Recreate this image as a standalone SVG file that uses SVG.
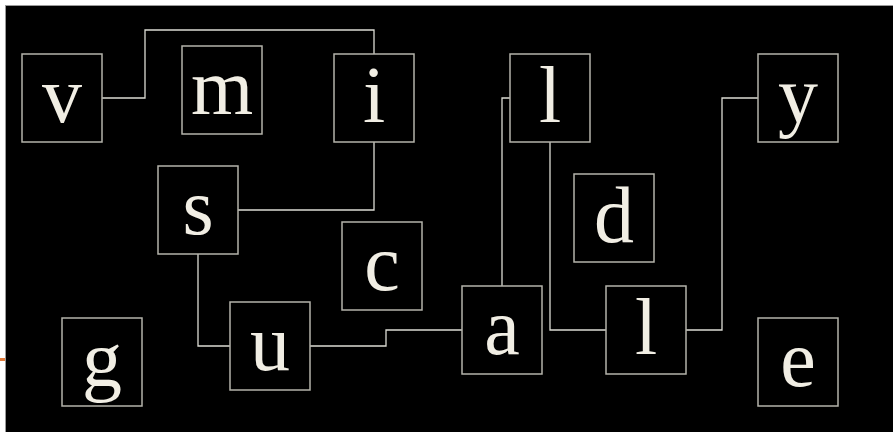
<svg xmlns="http://www.w3.org/2000/svg" width="893" height="432" viewBox="0 0 893 432">
<style>
.bg{fill:#000000}
.box{fill:#000000;stroke:#b4b3aa;stroke-width:1.5}
.lbl{font-family:"Liberation Serif","Times New Roman",serif;font-size:80px;fill:#f1eee4;text-anchor:middle}
.con{fill:none;stroke:#dcdcd4;stroke-width:1.3}
</style>
<rect x="0" y="0" width="893" height="432" fill="#ffffff"/>
<rect class="bg" x="5" y="5" width="888" height="427"/>
<line x1="5" y1="5.5" x2="893" y2="5.5" stroke="#9a9a9a" stroke-width="1"/>
<line x1="5.5" y1="5" x2="5.5" y2="432" stroke="#9a9a9a" stroke-width="1"/>
<line x1="0" y1="359.5" x2="5" y2="359.5" stroke="#e07a3a" stroke-width="3"/>
<g id="connectors">
<polyline class="con" points="102,98 145,98 145,30 374,30 374,54"/>
<polyline class="con" points="374,142 374,210 238,210"/>
<polyline class="con" points="198,254 198,346 230,346"/>
<polyline class="con" points="310,346 386,346 386,330 462,330"/>
<polyline class="con" points="502,286 502,98 510,98"/>
<polyline class="con" points="550,142 550,330 606,330"/>
<polyline class="con" points="686,330 722,330 722,98 758,98"/>
</g>
<g id="node-v"><rect class="box" x="22" y="54" width="80" height="88"/><text class="lbl" x="62" y="122">v</text></g>
<g id="node-m"><rect class="box" x="182" y="46" width="80" height="88"/><text class="lbl" x="222" y="114">m</text></g>
<g id="node-i"><rect class="box" x="334" y="54" width="80" height="88"/><text class="lbl" x="374" y="122">i</text></g>
<g id="node-l1"><rect class="box" x="510" y="54" width="80" height="88"/><text class="lbl" x="550" y="122">l</text></g>
<g id="node-y"><rect class="box" x="758" y="54" width="80" height="88"/><text class="lbl" x="798" y="122">y</text></g>
<g id="node-s"><rect class="box" x="158" y="166" width="80" height="88"/><text class="lbl" x="198" y="234">s</text></g>
<g id="node-d"><rect class="box" x="574" y="174" width="80" height="88"/><text class="lbl" x="614" y="242">d</text></g>
<g id="node-c"><rect class="box" x="342" y="222" width="80" height="88"/><text class="lbl" x="382" y="290">c</text></g>
<g id="node-a"><rect class="box" x="462" y="286" width="80" height="88"/><text class="lbl" x="502" y="354">a</text></g>
<g id="node-l2"><rect class="box" x="606" y="286" width="80" height="88"/><text class="lbl" x="646" y="354">l</text></g>
<g id="node-u"><rect class="box" x="230" y="302" width="80" height="88"/><text class="lbl" x="270" y="370">u</text></g>
<g id="node-g"><rect class="box" x="62" y="318" width="80" height="88"/><text class="lbl" x="102" y="386">g</text></g>
<g id="node-e"><rect class="box" x="758" y="318" width="80" height="88"/><text class="lbl" x="798" y="386">e</text></g>
</svg>
